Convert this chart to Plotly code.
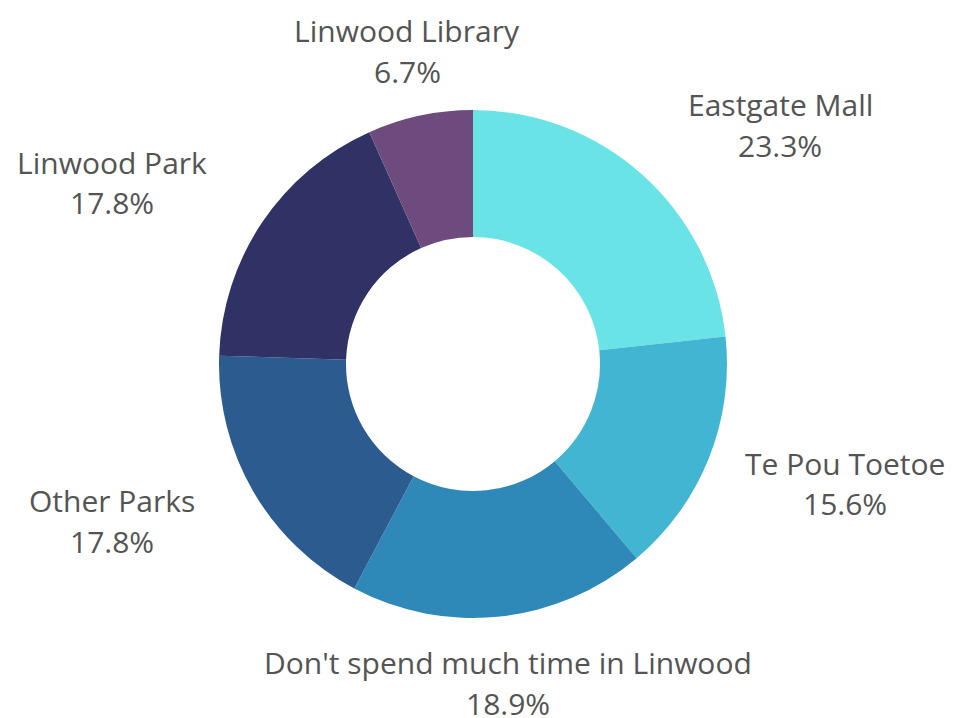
import plotly.graph_objects as go

labels = ["Eastgate Mall", "Te Pou Toetoe", "Don't spend much time in Linwood",
          "Other Parks", "Linwood Park", "Linwood Library"]
values = [23.3, 15.6, 18.9, 17.8, 17.8, 6.7]
colors = ["#69e3e6", "#42b5d3", "#2e88b8", "#2c5b90", "#303165", "#6d4b7e"]

# label anchor positions (pixel centres in the 980x718 canvas)
label_pos = [(780, 104), (845, 463), (508, 662), (112, 500), (112, 162), (407, 30)]

W, H = 980, 718
cx, cy, r = 473, 364, 254

fig = go.Figure(go.Pie(
    labels=labels, values=values, hole=0.5, sort=False, direction="clockwise",
    rotation=0, marker=dict(colors=colors, line=dict(width=0)),
    textinfo="none", hoverinfo="label+percent",
    domain=dict(x=[(cx - r) / W, (cx + r) / W], y=[(H - cy - r) / H, (H - cy + r) / H]),
))

anns = []
for lab, v, (px, py) in zip(labels, values, label_pos):
    for txt, dy in ((lab, 0), (f"{v:.1f}%", 41)):
        anns.append(dict(text=txt, x=px / W, y=1 - (py + dy) / H,
                         xref="paper", yref="paper",
                         showarrow=False, xanchor="center", yanchor="middle",
                         font=dict(family="Open Sans", size=30, color="#545454")))

fig.update_layout(width=W, height=H, margin=dict(l=0, r=0, t=0, b=0),
                  paper_bgcolor="white", plot_bgcolor="white", showlegend=False,
                  annotations=anns)
fig.write_html("out.html", config={"displayModeBar": False},
               post_script="document.body.style.margin='0px';document.body.style.overflow='hidden';")
